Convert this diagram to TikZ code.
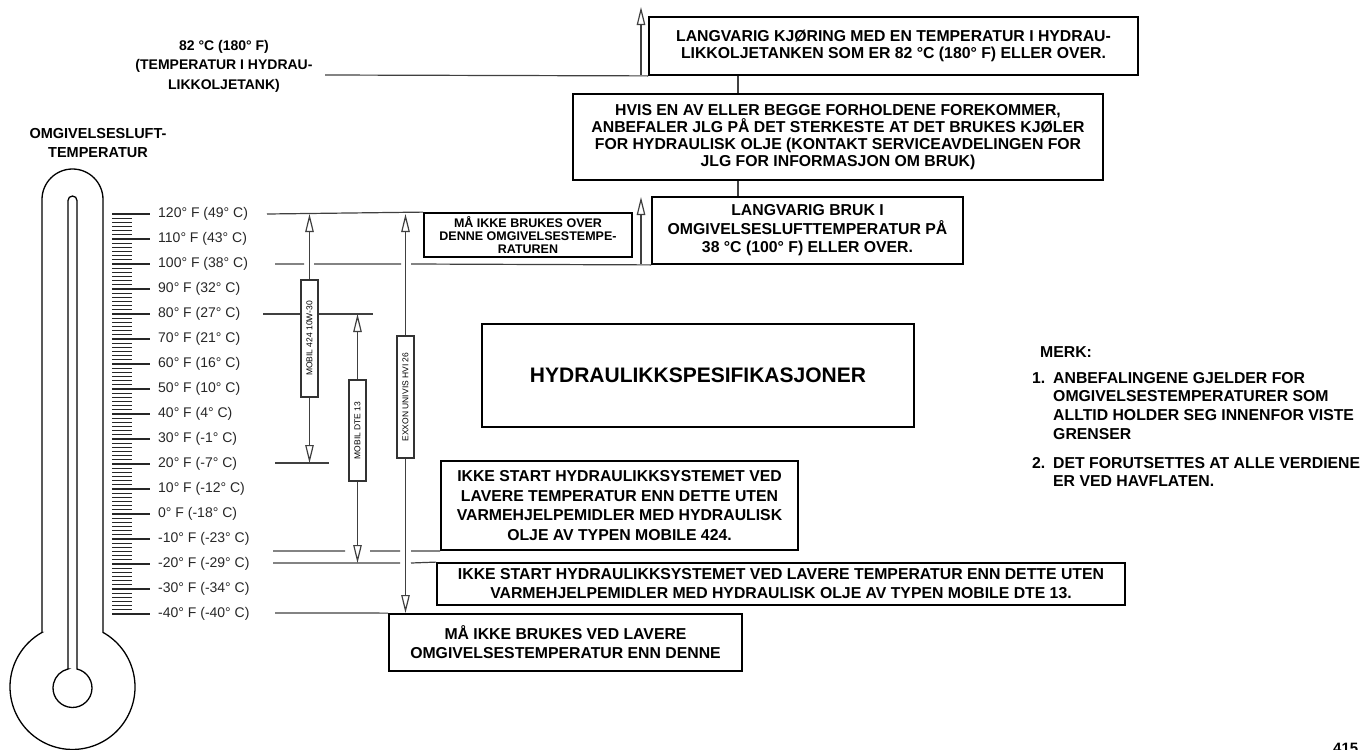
\documentclass[tikz,border=0pt]{standalone}
\usepackage{fontspec}
\setmainfont{Liberation Sans}
\usetikzlibrary{arrows.meta}
\begin{document}
\begin{tikzpicture}[x=1pt,y=-1pt,
  box/.style={draw=black, line width=1.8pt, fill=white, inner sep=0pt, align=center},
  level/.style={draw=black!75, line width=1.2pt},
  conn/.style={draw=black!75, line width=1.2pt},
  oarrow/.style={conn, -{Triangle[open,length=18pt,width=8.5pt]}},
  oillabel/.style={draw=black!80, line width=1.2pt, fill=white, rotate=90, inner sep=0pt,
    minimum height=17pt, font=\fontsize{8.5}{10}\selectfont},
  scalelabel/.style={anchor=west, inner sep=0pt, font=\fontsize{14}{16}\selectfont, text=black!85},
  heading/.style={align=center, inner sep=0pt, font=\fontsize{14.5}{19.5}\selectfont\bfseries},
  notetxt/.style={inner sep=0pt, font=\fontsize{15.8}{18.7}\selectfont\bfseries},
  tick/.style={draw=black!85, line width=1.1pt},
  glass/.style={draw=black, line width=1.3pt}
]
\useasboundingbox (0,0) rectangle (1361,750);

% ---- thermometer ----
\draw[glass] (42,632.4) -- (42,199.5) arc[start angle=180,end angle=360,radius=30.5]
  -- (103,632.4) arc[start angle=-60.8,end angle=240.8,radius=62.5] -- cycle;
\draw[glass] (68,669) -- (68,200.5) arc[start angle=180,end angle=360,radius=4.5]
  -- (77,669) arc[start angle=-76.66,end angle=256.66,radius=19.5] -- cycle;

% ---- scale ----
\foreach \i in {0,...,16} {\draw[tick] (112,{214+25*\i}) -- (150,{214+25*\i});}
\foreach \i in {0,...,15} {\foreach \j in {1,...,5} {
  \draw[tick] (112,{214+25*\i+25*\j/6}) -- (132,{214+25*\i+25*\j/6});}}
\foreach \t [count=\i from 0] in {120° F (49° C),110° F (43° C),100° F (38° C),90° F (32° C),
  80° F (27° C),70° F (21° C),60° F (16° C),50° F (10° C),40° F (4° C),30° F (-1° C),
  20° F (-7° C),10° F (-12° C),0° F (-18° C),-10° F (-23° C),-20° F (-29° C),
  -30° F (-34° C),-40° F (-40° C)}
  {\node[scalelabel] (lab\i) at (158,{214+25*\i}) {\t};}

\node[heading] (airhead) at (98,143) {OMGIVELSESLUFT-\\TEMPERATUR};
\node[heading, font=\fontsize{14}{19.5}\selectfont\bfseries] (tankhead) at (224,66) {82 °C (180° F)\\(TEMPERATUR I HYDRAU-\\LIKKOLJETANK)};

% ---- boxes ----
\node[box, minimum width=489pt, minimum height=58pt, font=\fontsize{15.8}{17}\selectfont\bfseries] (kj) at (893.5,46)
  {LANGVARIG KJØRING MED EN TEMPERATUR I HYDRAU-\\LIKKOLJETANKEN SOM ER 82 °C (180° F) ELLER OVER.};
\node[box, minimum width=530pt, minimum height=86pt, font=\fontsize{15.8}{17}\selectfont\bfseries] (hvis) at (838,137)
  {HVIS EN AV ELLER BEGGE FORHOLDENE FOREKOMMER,\\ANBEFALER JLG PÅ DET STERKESTE AT DET BRUKES KJØLER\\FOR HYDRAULISK OLJE (KONTAKT SERVICEAVDELINGEN FOR\\JLG FOR INFORMASJON OM BRUK)};
\node[box, minimum width=311pt, minimum height=67pt, font=\fontsize{15.8}{18.5}\selectfont\bfseries] (bruk) at (807.5,230.5)
  {LANGVARIG BRUK I\\OMGIVELSESLUFTTEMPERATUR PÅ\\38 °C (100° F) ELLER OVER.};
\node[box, minimum width=208pt, minimum height=44pt, font=\fontsize{12.5}{13.3}\selectfont\bfseries] (over) at (528,235)
  {MÅ IKKE BRUKES OVER\\DENNE OMGIVELSESTEMPE-\\RATUREN};
\node[box, minimum width=432pt, minimum height=103pt, font=\fontsize{21}{24}\selectfont\bfseries] (spec) at (698,375.5)
  {HYDRAULIKKSPESIFIKASJONER};
\node[box, minimum width=357pt, minimum height=89pt, font=\fontsize{15.8}{19.5}\selectfont\bfseries] (m424) at (619.5,505.5)
  {IKKE START HYDRAULIKKSYSTEMET VED\\LAVERE TEMPERATUR ENN DETTE UTEN\\VARMEHJELPEMIDLER MED HYDRAULISK\\OLJE AV TYPEN MOBILE 424.};
\node[box, minimum width=688pt, minimum height=42pt, font=\fontsize{15.8}{19}\selectfont\bfseries] (dte) at (781,584)
  {IKKE START HYDRAULIKKSYSTEMET VED LAVERE TEMPERATUR ENN DETTE UTEN\\VARMEHJELPEMIDLER MED HYDRAULISK OLJE AV TYPEN MOBILE DTE 13.};
\node[box, minimum width=353pt, minimum height=57pt, font=\fontsize{15.8}{19}\selectfont\bfseries] (low) at (565.5,642.5)
  {MÅ IKKE BRUKES VED LAVERE\\OMGIVELSESTEMPERATUR ENN DENNE};

% ---- links between the cooler boxes ----
\draw[conn] (kj.south -| 738,0) -- (hvis.north -| 738,0);
\draw[conn] (hvis.south -| 738,0) -- (bruk.north -| 738,0);

% ---- tank temperature line ----
\coordinate (tankL) at (325,75);
\coordinate (tankA) at (641,75);
\coordinate (tankTip) at (641,7);
\draw[level] (tankL) -- (kj.south west);
\draw[oarrow] (tankA) -- (tankTip);

% ---- ambient temperature levels ----
\coordinate (l120) at (267,214);
\draw[level] (l120) -- (over.north west);
\coordinate (l100) at (275,264);
\draw[level] (l100) -- (304,264) (314,264) -- (401,264) (411,264) -- (bruk.south west);
\coordinate (brukA) at (641,264);
\coordinate (brukTip) at (641,197);
\draw[oarrow] (brukA) -- (brukTip);
\draw[level] (263,314) -- (373,314);
\draw[level] (275,463) -- (329,463);
\draw[level] (273,551) -- (345,551) (370,551) -- (400,551) (411,551) -- (m424.south west);
\draw[level] (273,563) -- (400,563) (411,563) -- (dte.north west);
\draw[level] (275,613) -- (low.north west);

% ---- oil ranges ----
\node[oillabel, minimum width=117pt] (oil424) at (309.5,338.5) {MOBIL 424 10W-30};
\node[oillabel, minimum width=101pt] (oildte) at (357.5,430.5) {MOBIL DTE 13};
\node[oillabel, minimum width=122pt] (oilexx) at (405.5,397) {EXXON UNIVIS HVI 26};
\coordinate (t424) at (309.5,214);
\coordinate (b424) at (309.5,463);
\coordinate (tdte) at (357.5,314);
\coordinate (bdte) at (357.5,563);
\coordinate (texx) at (405.5,214);
\coordinate (bexx) at (405.5,613);
\draw[oarrow] (oil424.east) -- (t424);
\draw[oarrow] (oil424.west) -- (b424);
\draw[oarrow] (oildte.east) -- (tdte);
\draw[oarrow] (oildte.west) -- (bdte);
\draw[oarrow] (oilexx.east) -- (texx);
\draw[oarrow] (oilexx.west) -- (bexx);

% ---- notes ----
\node[notetxt, anchor=west] (merk) at (1040,352) {MERK:};
\node[notetxt, anchor=west] (n1) at (1032,378) {1.};
\node[notetxt, anchor=north west, align=left] (n1t) at (1053,372)
  {ANBEFALINGENE GJELDER FOR\\OMGIVELSESTEMPERATURER SOM\\ALLTID HOLDER SEG INNENFOR VISTE\\GRENSER};
\node[notetxt, anchor=west] (n2) at (1032,463) {2.};
\node[notetxt, anchor=north west, align=left] (n2t) at (1053,457)
  {DET FORUTSETTES AT ALLE VERDIENE\\ER VED HAVFLATEN.};

\node[anchor=north west, inner sep=0pt, font=\fontsize{15}{18}\selectfont\bfseries] (fig) at (1333,743) {415};
\end{tikzpicture}
\end{document}
